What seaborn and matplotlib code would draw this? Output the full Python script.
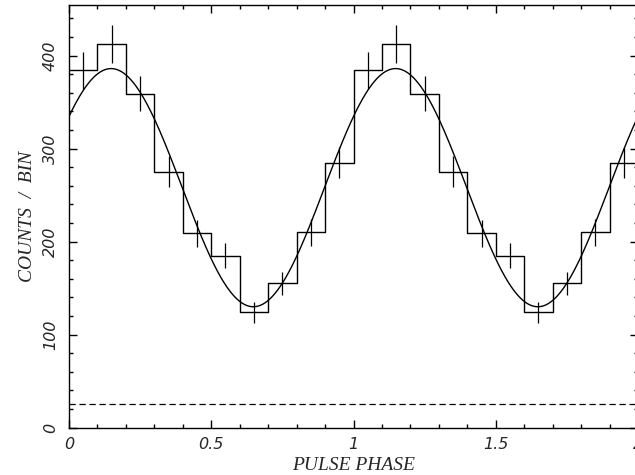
import numpy as np
import pandas as pd
import matplotlib
matplotlib.use("Agg")
import matplotlib.pyplot as plt
from matplotlib.ticker import MultipleLocator
import seaborn as sns

# Folded light curve: counts in 10 phase bins, shown over two cycles
bin_counts = [384, 412, 359, 275, 209, 185, 124, 155, 210, 285]
bin_errors = [19.6, 20.3, 18.9, 16.6, 14.5, 13.6, 11.1, 12.4, 14.5, 16.9]
n_cycles = 2

# Sinusoidal fit parameters
fit_mean = 258.0
fit_amp = 128.0
fit_phase_peak = 0.148

# Background level
background = 25.0

sns.set_theme(style="white")
plt.rcParams["font.family"] = ["DejaVu Sans"]

nb = len(bin_counts)
edges = np.arange(nb * n_cycles + 1) / nb
counts2 = np.tile(bin_counts, n_cycles)
errs2 = np.tile(bin_errors, n_cycles)
centers = (edges[:-1] + edges[1:]) / 2

fig = plt.figure(figsize=(6.35, 4.75), dpi=100)
ax = fig.add_axes([69 / 635, (475 - 427.7) / 475, (638 - 69) / 635, (427.7 - 5.3) / 475])

# Step histogram
step_df = pd.DataFrame({"phase": edges, "counts": np.append(counts2, counts2[-1])})
sns.lineplot(data=step_df, x="phase", y="counts", drawstyle="steps-post",
             color="black", linewidth=1.0, ax=ax, estimator=None)

# Error bars at bin centres
ax.errorbar(centers, counts2, yerr=errs2, fmt="none", ecolor="black",
            elinewidth=0.9, capsize=0)

# Fitted sinusoid
phase_grid = np.linspace(0, n_cycles, 801)
fit_df = pd.DataFrame({
    "phase": phase_grid,
    "model": fit_mean + fit_amp * np.cos(2 * np.pi * (phase_grid - fit_phase_peak)),
})
sns.lineplot(data=fit_df, x="phase", y="model", color="black", linewidth=1.0,
             ax=ax, estimator=None)

# Background
ax.axhline(background, color="black", linewidth=0.9, linestyle=(0, (5, 3)))

ax.set_xlim(0, 2)
ax.set_ylim(0, 454)
ax.xaxis.set_major_locator(MultipleLocator(0.5))
ax.xaxis.set_minor_locator(MultipleLocator(0.1))
ax.yaxis.set_major_locator(MultipleLocator(100))
ax.yaxis.set_minor_locator(MultipleLocator(20))
ax.set_xticks([0, 0.5, 1, 1.5, 2])
ax.set_xticklabels(["0", "0.5", "1", "1.5", "2"])

ax.tick_params(which="both", direction="in", top=True, right=True,
               bottom=True, left=True, color="black", width=1.0)
ax.tick_params(which="major", length=6)
ax.tick_params(which="minor", length=3)
ax.tick_params(axis="x", which="major", pad=7)
ax.tick_params(axis="y", which="major", pad=8)

for lab in ax.get_xticklabels():
    lab.set_fontstyle("italic")
    lab.set_fontsize(11.5)
for lab in ax.get_yticklabels():
    lab.set_fontstyle("italic")
    lab.set_fontsize(11.5)
    lab.set_rotation(90)
    lab.set_va("center")

for side in ["left", "right", "top", "bottom"]:
    ax.spines[side].set_visible(True)
    ax.spines[side].set_color("black")
    ax.spines[side].set_linewidth(1.0)

ax.set_xlabel("PULSE PHASE", fontsize=14, fontstyle="italic",
              family="Liberation Serif", labelpad=3.5)
ax.set_ylabel("COUNTS  /  BIN", fontsize=14, fontstyle="italic",
              family="Liberation Serif", labelpad=5)
ax.grid(False)

fig.savefig("out.png", dpi=100)
